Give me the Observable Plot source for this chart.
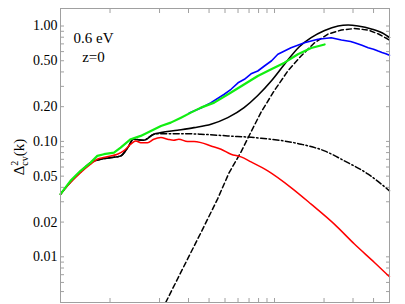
<!DOCTYPE html>
<html><head><meta charset="utf-8">
<script src="https://cdn.jsdelivr.net/npm/d3@7"></script>
<script src="https://cdn.jsdelivr.net/npm/@observablehq/plot@0.6"></script>
<style>body{margin:0;background:#fff}</style>
</head><body><div id="chart"></div>
<script>
// k [h/Mpc] and Δ²_cv(k) values
const redK = [0.005,0.00575,0.00662,0.00762,0.00837,0.00914,0.0101,0.01108,0.0121,0.01336,0.01433,0.01537,0.0169,0.01845,0.0204,0.0224,0.0244,0.0262,0.0296,0.0324,0.0357,0.0411,0.0473,0.0544,0.0626,0.072,0.091,0.126,0.167,0.231,0.306,0.405,0.5];
const redV = [0.0349,0.0440,0.0537,0.0635,0.0701,0.0724,0.0749,0.0775,0.0828,0.0946,0.101,0.0976,0.0976,0.1045,0.1079,0.1045,0.1024,0.1045,0.0996,0.0996,0.0976,0.0914,0.0856,0.0775,0.0734,0.0664,0.0555,0.0398,0.0286,0.0192,0.0129,0.00893,0.00671];

const dotDashK = [0.005,0.00575,0.00662,0.00762,0.00877,0.0101,0.0116,0.0128,0.0139,0.0160,0.01845,0.0204,0.027,0.0357,0.052,0.083,0.145,0.201,0.266,0.371,0.5];
const dotDashV = [0.0349,0.0445,0.0545,0.0655,0.0701,0.0724,0.0749,0.0879,0.1045,0.1024,0.1154,0.1168,0.1168,0.1154,0.1116,0.1066,0.0946,0.0828,0.0678,0.052,0.0373];

const solidK = [0.005,0.00575,0.00662,0.00762,0.00877,0.0101,0.0116,0.0128,0.0139,0.0160,0.01845,0.0204,0.0257,0.0324,0.0411,0.052,0.0653,0.0791,0.0955,0.115,0.141,0.167,0.2016,0.2435,0.28,0.322,0.388,0.468,0.5];
const solidV = [0.0349,0.0445,0.0545,0.0655,0.0701,0.0724,0.0749,0.0879,0.1045,0.1024,0.1154,0.1191,0.125,0.1317,0.141,0.1607,0.1963,0.25,0.334,0.466,0.658,0.792,0.914,1.0,1.02,1.0,0.942,0.847,0.795];

const dashK = [0.0218,0.0263,0.0357,0.0451,0.0529,0.0626,0.072,0.083,0.0995,0.1205,0.145,0.1745,0.2115,0.255,0.306,0.371,0.4285,0.5];
const dashV = [0.00402,0.00685,0.0162,0.0318,0.0534,0.0811,0.121,0.18,0.274,0.408,0.55,0.713,0.852,0.923,0.951,0.923,0.852,0.756];

const greenK = [0.005,0.00575,0.00662,0.00762,0.00837,0.00918,0.01057,0.0116,0.01336,0.01537,0.0177,0.0204,0.0234,0.027,0.031,0.0357,0.043,0.0544,0.0656,0.0791,0.0955,0.115,0.1387,0.167,0.2016];
const greenV = [0.0349,0.0455,0.0556,0.0655,0.0749,0.0775,0.0800,0.0884,0.1045,0.1116,0.1233,0.1362,0.1455,0.1607,0.1776,0.1962,0.2168,0.2655,0.3128,0.369,0.422,0.481,0.569,0.645,0.692];

const blueK = [0.0303,0.0357,0.0411,0.0495,0.0544,0.0600,0.0656,0.0720,0.0791,0.0868,0.0960,0.1048,0.126,0.152,0.1837,0.221,0.255,0.29,0.307,0.34,0.371,0.40,0.4265,0.45,0.475,0.5];
const blueV = [0.176,0.195,0.2168,0.2563,0.283,0.322,0.3455,0.385,0.4076,0.4503,0.50,0.569,0.649,0.717,0.767,0.792,0.756,0.735,0.717,0.68,0.649,0.63,0.607,0.59,0.575,0.5574];

const yMajor = [0.01,0.02,0.05,0.1,0.2,0.5,1];
const yMinor = [0.005,0.006,0.007,0.008,0.009,0.03,0.04,0.06,0.07,0.08,0.09,0.3,0.4,0.6,0.7,0.8,0.9];
const xTicks = [0.01,0.02,0.03,0.04,0.05,0.06,0.07,0.08,0.09,0.1,0.2,0.3,0.4];

const rows = (ks, vs) => ks.map((k, i) => ({k, v: vs[i]}));
const frameGray = "#a0a0a0";
const serif = "'Liberation Serif', 'Times New Roman', serif";

const chart = Plot.plot({
  width: 405, height: 304,
  marginLeft: 60, marginRight: 16, marginTop: 8, marginBottom: 2,
  style: {fontFamily: serif, fontSize: "14px", background: "#fff", color: "#000"},
  x: {type: "log", domain: [0.005, 0.5]},
  y: {type: "log", domain: [0.00402, 1.418]},
  marks: [
    Plot.text(yMajor, {y: d => d, frameAnchor: "left", dx: -3, textAnchor: "end", text: d => d3.format(".2f")(d), fontSize: 14, fontFamily: serif, fill: "#000"}),
    Plot.axisY({anchor: "left", ticks: [...yMajor, ...yMinor], tickFormat: () => "", tickSize: -4, stroke: frameGray, label: null}),
    Plot.axisY({anchor: "right", ticks: [...yMajor, ...yMinor], tickFormat: () => "", tickSize: -4, stroke: frameGray, label: null}),
    Plot.axisX({anchor: "top", ticks: xTicks, tickFormat: () => "", tickSize: -4, stroke: frameGray, label: null}),
    Plot.axisX({anchor: "bottom", ticks: xTicks, tickFormat: () => "", tickSize: -4, stroke: frameGray, label: null}),
    Plot.line(rows(dashK, dashV), {x: "k", y: "v", stroke: "#000", strokeWidth: 1.5, strokeDasharray: "5,3", clip: true}),
    Plot.line(rows(dotDashK, dotDashV), {x: "k", y: "v", stroke: "#000", strokeWidth: 1.5, strokeDasharray: "6,2.5,1.5,2.5", curve: "monotone-x"}),
    Plot.line(rows(solidK, solidV), {x: "k", y: "v", stroke: "#000", strokeWidth: 1.6, curve: "monotone-x"}),
    Plot.line(rows(redK, redV), {x: "k", y: "v", stroke: "#ff0000", strokeWidth: 1.5, curve: "monotone-x"}),
    Plot.line(rows(blueK, blueV), {x: "k", y: "v", stroke: "#0000ff", strokeWidth: 1.6}),
    Plot.line(rows(greenK, greenV), {x: "k", y: "v", stroke: "#11ee11", strokeWidth: 2.2}),
    Plot.frame({stroke: frameGray}),
    Plot.text(["0.6 eV"], {frameAnchor: "top-left", dx: 33, dy: 23.5, textAnchor: "middle", fontSize: 15, fontFamily: serif, fill: "#000"}),
    Plot.text(["z=0"], {frameAnchor: "top-left", dx: 33, dy: 43, textAnchor: "middle", fontSize: 15, fontFamily: serif, fill: "#000"})
  ]
});

const svg = d3.select(chart);
const lab = svg.append("text")
  .attr("transform", "translate(24,157) rotate(-90)")
  .attr("text-anchor", "middle")
  .style("font-family", serif)
  .style("font-size", "15px")
  .attr("fill", "#000");
lab.append("tspan").text("Δ");
lab.append("tspan").attr("dy", -6).attr("font-size", 10).text("2");
lab.append("tspan").attr("dx", -5).attr("dy", 10).attr("font-size", 10).text("cv");
lab.append("tspan").attr("dy", -4).text("(k)");

document.getElementById("chart").appendChild(chart);
</script>
</body></html>
